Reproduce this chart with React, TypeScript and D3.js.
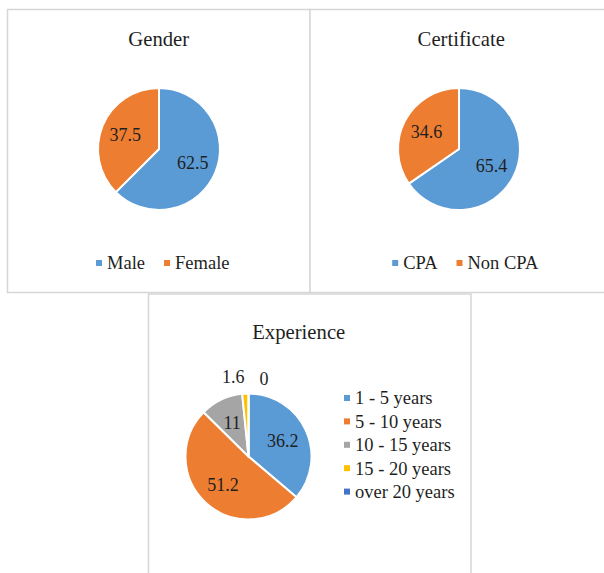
import React, { useEffect, useRef } from "react";
import * as d3 from "d3";

const genderLabels = ["Male", "Female"];
const genderValues = [62.5, 37.5];

const certLabels = ["CPA", "Non CPA"];
const certValues = [65.4, 34.6];

const expLabels = ["1 - 5 years", "5 - 10 years", "10 - 15 years", "15 - 20 years", "over 20 years"];
const expValues = [36.2, 51.2, 11, 1.6, 0];

const COLORS = ["#5B9BD5", "#ED7D31", "#A5A5A5", "#FFC000", "#4472C4"];
const FONT = "'Liberation Serif', 'Times New Roman', serif";
const TEXT = "#1f1f1f";
const BORDER = "#d6d6d6";

const W = 604;
const H = 573;

type PieSpec = {
  title: string;
  labels: string[];
  values: number[];
  box: [number, number, number, number];
  titleY: number;
  cx: number;
  cy: number;
  r: number;
  legend: "bottom" | "right";
  legendY: number;
  legendX?: number;
};

const charts: PieSpec[] = [
  { title: "Gender", labels: genderLabels, values: genderValues, box: [7.5, 9.5, 302.5, 283], titleY: 46, cx: 159, cy: 149, r: 61, legend: "bottom", legendY: 263 },
  { title: "Certificate", labels: certLabels, values: certValues, box: [310, 9.5, 302.5, 283], titleY: 46, cx: 459, cy: 149, r: 61, legend: "bottom", legendY: 263 },
  { title: "Experience", labels: expLabels, values: expValues, box: [148.5, 294, 322.5, 290], titleY: 339, cx: 248.5, cy: 456.5, r: 63, legend: "right", legendY: 398, legendX: 344 },
];

const App = () => {
  const svgRef = useRef<SVGSVGElement>(null);

  useEffect(() => {
    const svg = d3.select(svgRef.current);
    svg.selectAll("*").remove();

    charts.forEach((c) => {
      const g = svg.append("g");
      const [bx, by, bw, bh] = c.box;
      g.append("rect")
        .attr("x", bx)
        .attr("y", by)
        .attr("width", bw)
        .attr("height", bh)
        .attr("fill", "#fff")
        .attr("stroke", BORDER)
        .attr("stroke-width", 1.5);

      g.append("text")
        .attr("x", bx + bw / 2 - (c.legend === "right" ? 11 : 0))
        .attr("y", c.titleY)
        .attr("text-anchor", "middle")
        .attr("font-family", FONT)
        .attr("font-size", 20.7)
        .attr("fill", TEXT)
        .text(c.title);

      const pie = d3.pie<number>().sort(null).value((d) => d);
      const arcs = pie(c.values);
      const arc = d3.arc<d3.PieArcDatum<number>>().innerRadius(0).outerRadius(c.r);
      // inside labels sit a bit past the middle of the radius
      const labelArc = d3.arc<d3.PieArcDatum<number>>().innerRadius(c.r * 0.6).outerRadius(c.r * 0.6);

      const pg = g.append("g").attr("transform", `translate(${c.cx},${c.cy})`);
      pg.selectAll("path")
        .data(arcs)
        .join("path")
        .attr("d", arc)
        .attr("fill", (d, i) => COLORS[i])
        .attr("stroke", "#fff")
        .attr("stroke-width", 2)
        .attr("stroke-linejoin", "round");

      pg.selectAll("text")
        .data(arcs)
        .join("text")
        .each(function (d) {
          const share = (d.endAngle - d.startAngle) / (2 * Math.PI);
          const mid = (d.startAngle + d.endAngle) / 2;
          const t = d3.select(this);
          if (share >= 0.05) {
            const [x, y] = labelArc.centroid(d);
            t.attr("x", x).attr("y", y).attr("text-anchor", "middle");
          } else {
            const R = c.r + 17;
            const x = Math.sin(mid) * R;
            const y = -Math.cos(mid) * R;
            if (mid < 2 * Math.PI - 1e-6) {
              t.attr("x", x).attr("y", y).attr("text-anchor", "end");
            } else {
              t.attr("x", x + 11).attr("y", y + 2).attr("text-anchor", "start");
            }
          }
        })
        .attr("dy", "0.35em")
        .attr("font-family", FONT)
        .attr("font-size", 18)
        .attr("fill", TEXT)
        .text((d) => String(d.data));

      if (c.legend === "bottom") {
        const lg = g.append("g");
        let x = 0;
        c.labels.forEach((lab, i) => {
          lg.append("rect")
            .attr("x", x)
            .attr("y", c.legendY - 3)
            .attr("width", 6)
            .attr("height", 6)
            .attr("fill", COLORS[i]);
          const txt = lg
            .append("text")
            .attr("x", x + 11)
            .attr("y", c.legendY)
            .attr("dy", "0.35em")
            .attr("font-family", FONT)
            .attr("font-size", 18.5)
            .attr("fill", TEXT)
            .text(lab);
          const w = (txt.node() as SVGTextElement).getComputedTextLength();
          x += 11 + w + 19;
        });
        const total = x - 19;
        lg.attr("transform", `translate(${bx + bw / 2 + 4 - total / 2},0)`);
      } else {
        const y = d3
          .scaleBand<string>()
          .domain(c.labels)
          .range([c.legendY - 11.7, c.legendY - 11.7 + 23.4 * c.labels.length]);
        c.labels.forEach((lab, i) => {
          const yc = (y(lab) as number) + y.bandwidth() / 2;
          g.append("rect")
            .attr("x", c.legendX as number)
            .attr("y", yc - 3)
            .attr("width", 6)
            .attr("height", 6)
            .attr("fill", COLORS[i]);
          g.append("text")
            .attr("x", (c.legendX as number) + 11)
            .attr("y", yc)
            .attr("dy", "0.35em")
            .attr("font-family", FONT)
            .attr("font-size", 18.5)
            .attr("fill", TEXT)
            .text(lab);
        });
      }
    });
  }, []);

  return (
    <svg
      ref={svgRef}
      width={W}
      height={H}
      style={{ position: "absolute", left: 0, top: 0, background: "#fff" }}
    />
  );
};

export default App;
